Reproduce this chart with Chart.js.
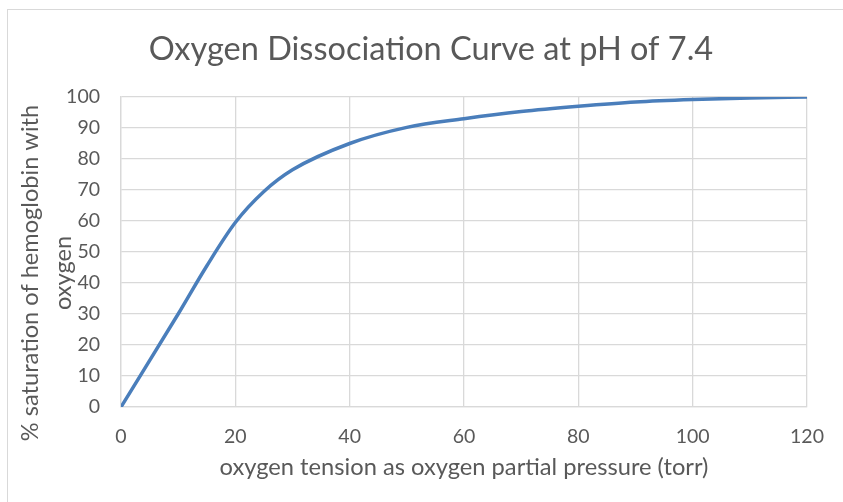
<!DOCTYPE html>
<html lang="en">
<head>
<meta charset="UTF-8">
<title>Oxygen Dissociation Curve</title>
<script src="https://cdn.jsdelivr.net/npm/chart.js"></script>
<style>
    html, body {
        margin: 0;
        padding: 0;
        background: #ffffff;
        overflow: hidden;
    }
    .frame {
        position: absolute;
        left: 7px;
        top: 9px;
        width: 840px;
        height: 500px;
        border-left: 1px solid #d9d9d9;
        border-top: 1px solid #d9d9d9;
    }
</style>
</head>
<body>
<div class="frame">
    <canvas id="chart" width="835" height="492"></canvas>
</div>
<script>
    // values
    const pressure = [0, 10, 15, 20, 25, 30, 40, 50, 60, 70, 80, 90, 100, 110, 120];
    const saturation = [0, 30, 45.5, 59.5, 69.5, 76.5, 85, 90.2, 93, 95.3, 97, 98.4, 99.2, 99.7, 100];

    const chartTitle = 'Oxygen Dissociation Curve at pH of 7.4';
    const xTitle = 'oxygen tension as oxygen partial pressure (torr)';
    const yTitleLines = ['% saturation of hemoglobin with', 'oxygen'];

    const textColor = '#595959';
    const gridColor = '#d9d9d9';
    const fontFamily = 'Lato, "Open Sans", sans-serif';

    // chart title and y axis title drawn by hand, Excel places them a bit off the chart.js positions
    const titlesPlugin = {
        id: 'titles',
        afterDraw(chart) {
            const ctx = chart.ctx;
            ctx.save();
            ctx.fillStyle = textColor;
            ctx.textAlign = 'center';
            ctx.textBaseline = 'middle';

            ctx.font = '32.5px ' + fontFamily;
            ctx.fillText(chartTitle, 423, 40);

            const midY = (chart.chartArea.top + chart.chartArea.bottom) / 2 + 21;
            const xs = [22, 55];
            ctx.font = '23.6px ' + fontFamily;
            yTitleLines.forEach((line, i) => {
                ctx.save();
                ctx.translate(xs[i], midY);
                ctx.rotate(-Math.PI / 2);
                ctx.fillText(line, 0, 0);
                ctx.restore();
            });
            ctx.restore();
        }
    };

    new Chart(document.getElementById('chart'), {
        type: 'scatter',
        data: {
            datasets: [{
                data: pressure.map((p, i) => ({ x: p, y: saturation[i] })),
                showLine: true,
                borderColor: '#4a7ebb',
                borderWidth: 3.5,
                pointRadius: 0,
                cubicInterpolationMode: 'monotone',
                fill: false
            }]
        },
        options: {
            responsive: false,
            animation: false,
            layout: {
                padding: { top: 87, left: 0, right: 36, bottom: 0 }
            },
            plugins: {
                legend: { display: false },
                tooltip: { enabled: false },
                title: { display: false }
            },
            scales: {
                x: {
                    type: 'linear',
                    min: 0,
                    max: 120,
                    afterFit: (scale) => { scale.height = 95; },
                    ticks: {
                        stepSize: 20,
                        color: textColor,
                        padding: 18,
                        font: { family: fontFamily, size: 19.5 }
                    },
                    grid: { color: gridColor, lineWidth: 1.3, drawTicks: false },
                    border: { color: gridColor, width: 1.3 },
                    title: {
                        display: true,
                        text: xTitle,
                        color: textColor,
                        font: { family: fontFamily, size: 23.7, lineHeight: 1.2 },
                        padding: { top: 0, bottom: 20 }
                    }
                },
                y: {
                    min: 0,
                    max: 100,
                    afterFit: (scale) => { scale.width = 113; },
                    ticks: {
                        stepSize: 10,
                        color: textColor,
                        padding: 21,
                        font: { family: fontFamily, size: 19.5 }
                    },
                    grid: { color: gridColor, lineWidth: 1.3, drawTicks: false },
                    border: { color: gridColor, width: 1.3 }
                }
            }
        },
        plugins: [titlesPlugin]
    });
</script>
</body>
</html>
